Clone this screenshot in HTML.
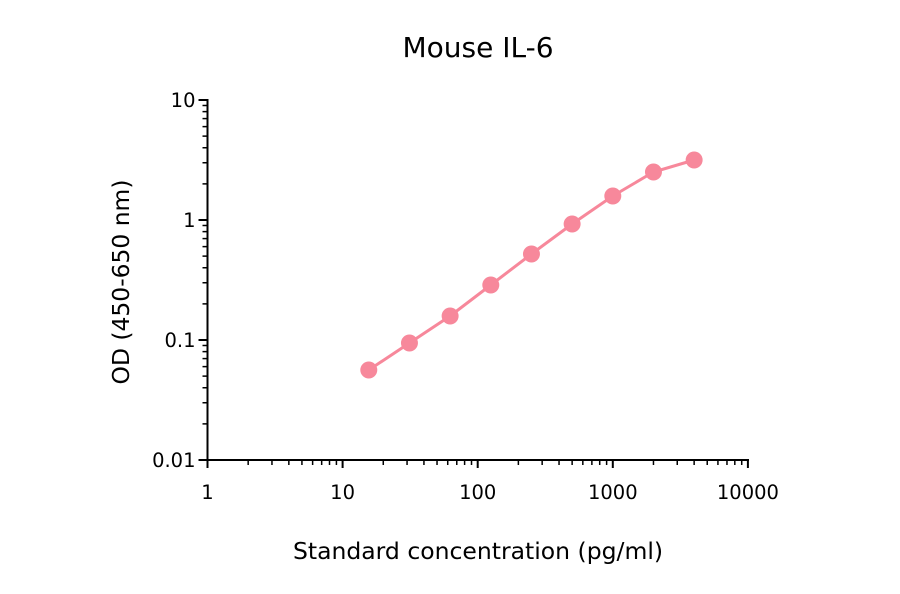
<!DOCTYPE html><html><head><meta charset="utf-8"><style>body{margin:0;background:#fff}svg{display:block}text{font-family:"DejaVu Sans","Liberation Sans",sans-serif;fill:#000}</style></head><body>
<svg id="s" width="900" height="594" viewBox="0 0 900 594">
<text x="478" y="57" font-size="28" text-anchor="middle">Mouse IL-6</text>
<text x="478" y="559" font-size="23.5" text-anchor="middle">Standard concentration (pg/ml)</text>
<text transform="translate(129,282) rotate(-90)" font-size="23.4" text-anchor="middle">OD (450-650 nm)</text>
<g id="ax" stroke="#000" stroke-width="2" fill="none"></g>
<g id="lb" font-size="19.5"></g>
<polyline id="pl" fill="none" stroke="#f7889b" stroke-width="3"/>
<g id="pts" fill="#f7889b"></g>
</svg>
<script>
var ax=document.getElementById('ax'),lb=document.getElementById('lb'),h='';
var X0=207.5,DX=135.1,Y0=460,DY=120;
h+='<line x1="'+X0+'" y1="99" x2="'+X0+'" y2="461"/><line x1="'+(X0-1)+'" y1="'+Y0+'" x2="749" y2="'+Y0+'"/>';
var l='';
for(var d=0;d<=4;d++){var x=X0+d*DX;h+='<line x1="'+x+'" y1="'+Y0+'" x2="'+x+'" y2="'+(Y0+8)+'"/>';
l+='<text x="'+x+'" y="'+(Y0+39)+'" text-anchor="middle">'+Math.pow(10,d)+'</text>';
if(d<4)for(var m=2;m<10;m++){var xm=x+DX*Math.log10(m);h+='<line x1="'+xm+'" y1="'+Y0+'" x2="'+xm+'" y2="'+(Y0+5)+'" stroke-width="1.5"/>';}}
var yl=['0.01','0.1','1','10'];
for(var d=0;d<=3;d++){var y=Y0-d*DY;h+='<line x1="'+(X0-9)+'" y1="'+y+'" x2="'+X0+'" y2="'+y+'"/>';
l+='<text x="'+(X0-12)+'" y="'+(y+7)+'" text-anchor="end">'+yl[d]+'</text>';
if(d<3)for(var m=2;m<10;m++){var ym=y-DY*Math.log10(m);h+='<line x1="'+(X0-5)+'" y1="'+ym+'" x2="'+X0+'" y2="'+ym+'" stroke-width="1.5"/>';}}
ax.innerHTML=h;lb.innerHTML=l;
var xs=[15.625,31.25,62.5,125,250,500,1000,2000,4000],ys=[370,343,316,285,254,224,196,172,160],p='',c='';
for(var i=0;i<9;i++){var x=X0+DX*Math.log10(xs[i]);p+=x+','+ys[i]+' ';c+='<circle cx="'+x+'" cy="'+ys[i]+'" r="8.5"/>';}
document.getElementById('pl').setAttribute('points',p);document.getElementById('pts').innerHTML=c;
</script></body></html>
